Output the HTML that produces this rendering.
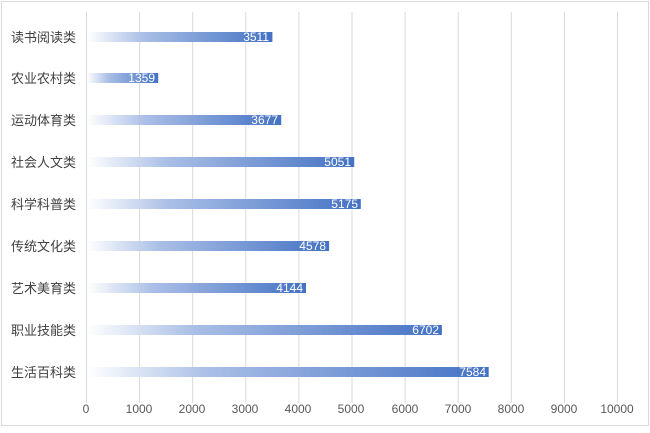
<!DOCTYPE html>
<html><head><meta charset="utf-8"><style>
body{margin:0;background:#fff;}
</style></head><body>
<svg width="650" height="428" xmlns="http://www.w3.org/2000/svg" font-family="Liberation Sans, Noto Sans CJK SC, sans-serif">
<defs><linearGradient id="g" x1="0" x2="1" y1="0" y2="0">
<stop offset="0" stop-color="#ffffff"/><stop offset="0.3" stop-color="#aabfe6"/><stop offset="1" stop-color="#4472C4"/></linearGradient></defs>
<rect x="1.5" y="1.5" width="647" height="424" fill="#fff" stroke="#d9d9d9"/>
<g stroke="#d9d9d9" stroke-width="1">
<line x1="86.5" y1="12" x2="86.5" y2="403"/><line x1="139.6" y1="12" x2="139.6" y2="403"/><line x1="192.7" y1="12" x2="192.7" y2="403"/><line x1="245.8" y1="12" x2="245.8" y2="403"/><line x1="298.9" y1="12" x2="298.9" y2="403"/><line x1="352" y1="12" x2="352" y2="403"/><line x1="405.1" y1="12" x2="405.1" y2="403"/><line x1="458.2" y1="12" x2="458.2" y2="403"/><line x1="511.3" y1="12" x2="511.3" y2="403"/><line x1="564.4" y1="12" x2="564.4" y2="403"/><line x1="617.5" y1="12" x2="617.5" y2="403"/>
</g>
<g font-size="12" fill="#595959" text-anchor="middle">
<text x="86" y="413">0</text><text x="139" y="413">1000</text><text x="192" y="413">2000</text><text x="245" y="413">3000</text><text x="298" y="413">4000</text><text x="351" y="413">5000</text><text x="405" y="413">6000</text><text x="458" y="413">7000</text><text x="511" y="413">8000</text><text x="564" y="413">9000</text><text x="617" y="413">10000</text>
</g>
<g font-size="13" fill="#404040" text-anchor="end">
<text x="76" y="42">读书阅读类</text><text x="76" y="83">农业农村类</text><text x="76" y="125">运动体育类</text><text x="76" y="167">社会人文类</text><text x="76" y="209">科学科普类</text><text x="76" y="251">传统文化类</text><text x="76" y="293">艺术美育类</text><text x="76" y="335">职业技能类</text><text x="76" y="377">生活百科类</text>
</g>
<g fill="url(#g)">
<rect x="87" y="32" width="185.4" height="10"/>
<rect x="87" y="73" width="71.2" height="10"/>
<rect x="87" y="115" width="194.2" height="10"/>
<rect x="87" y="157" width="267.2" height="10"/>
<rect x="87" y="199" width="273.8" height="10"/>
<rect x="87" y="241" width="242.1" height="10"/>
<rect x="87" y="283" width="219" height="10"/>
<rect x="87" y="325" width="354.9" height="10"/>
<rect x="87" y="367" width="401.7" height="10"/>
</g>
<g font-size="12" fill="#fff" text-anchor="end">
<text x="269" y="41">3511</text><text x="155" y="82">1359</text><text x="278" y="124">3677</text><text x="351" y="166">5051</text><text x="358" y="208">5175</text><text x="326" y="250">4578</text><text x="303" y="292">4144</text><text x="439" y="334">6702</text><text x="486" y="376">7584</text>
</g>
</svg>
</body></html>
